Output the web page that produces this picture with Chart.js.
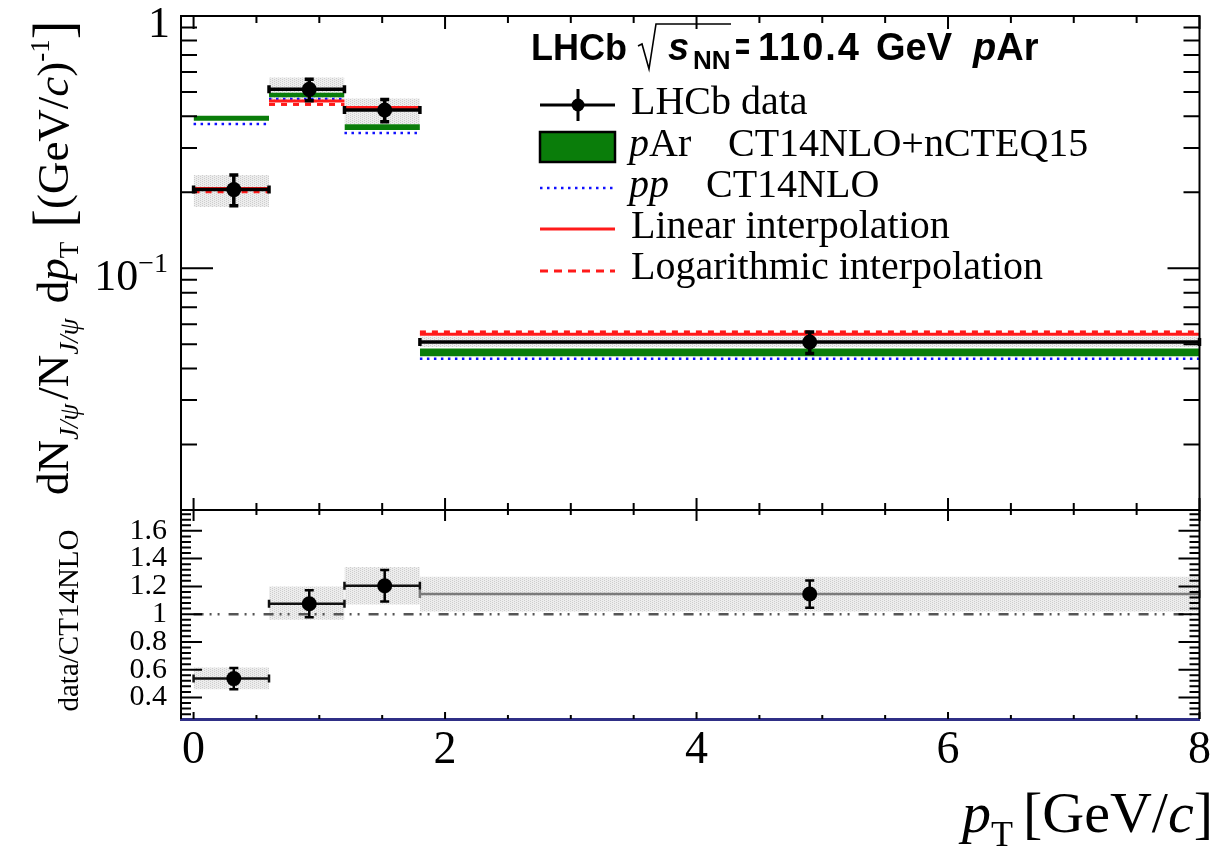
<!DOCTYPE html>
<html>
<head>
<meta charset="utf-8">
<script src="https://cdn.jsdelivr.net/npm/chart.js@4.4.1/dist/chart.umd.min.js"></script>
<style>
  html, body { margin: 0; padding: 0; background: #fff; }
  #wrap { width: 1215px; height: 853px; position: relative; }
</style>
</head>
<body>
<div id="wrap"><canvas id="c" width="1215" height="853"></canvas></div>
<script>
// pT bins [GeV/c] and mean pT of each bin
const binEdges = [0, 0.6, 1.2, 1.8, 8];
const meanPt   = [0.32, 0.92, 1.52, 4.9];

// normalised differential yield dN/(N dpT) [(GeV/c)^-1]
const dataVal   = [0.205, 0.512, 0.424, 0.0510];
const dataErrLo = [0.028, 0.051, 0.043, 0.0051];
const dataErrHi = [0.029, 0.049, 0.043, 0.0049];
const systLo    = [0.175, 0.464, 0.373, 0.0487];
const systHi    = [0.234, 0.571, 0.471, 0.0536];

// predictions
const pArLo     = [0.384, 0.476, 0.353, 0.0448];
const pArHi     = [0.402, 0.496, 0.372, 0.0480];
const ppVal     = [0.373, 0.469, 0.344, 0.0438];
const linInterp = [0.207, 0.460, 0.434, 0.0547];
const logInterp = [0.201, 0.446, 0.430, 0.0559];

// data / CT14NLO
const ratioVal    = [0.536, 1.075, 1.205, 1.145];
const ratioErr    = [0.076, 0.097, 0.113, 0.098];
const ratioSystLo = [0.460, 0.960, 1.070, 1.020];
const ratioSystHi = [0.615, 1.200, 1.340, 1.270];
const ratioRef    = 1;

// axis ticks
const xTicks     = [0, 2, 4, 6, 8];
const ratioTicks = [0.4, 0.6, 0.8, 1, 1.2, 1.4, 1.6];

const SERIF = "'Liberation Serif', 'Times New Roman', serif";
const SANS  = "'Liberation Sans', Arial, sans-serif";

// light grey dotted texture for the systematic boxes
function makeTexture() {
  const c = document.createElement('canvas');
  c.width = 4; c.height = 4;
  const g = c.getContext('2d');
  g.fillStyle = '#ededed'; g.fillRect(0, 0, 4, 4);
  g.fillStyle = '#cdcdcd';
  g.fillRect(0, 0, 1, 1); g.fillRect(0, 2, 1, 1); g.fillRect(2, 1, 1, 1); g.fillRect(2, 3, 1, 1);
  return g.createPattern(c, 'repeat');
}
const grey = makeTexture();

const datasets = [];
const seg = (x0, x1, y) => [{ x: x0, y: y }, { x: x1, y: y }];
const plain = { pointRadius: 0, pointHoverRadius: 0, tension: 0 };

function addBand(lo, hi, axis, fillColor, order) {
  for (let i = 0; i < lo.length; i++) {
    const a = binEdges[i], b = binEdges[i + 1];
    datasets.push({ ...plain, data: seg(a, b, lo[i]), yAxisID: axis, borderWidth: 0, borderColor: 'rgba(0,0,0,0)', fill: false, order });
    datasets.push({ ...plain, data: seg(a, b, hi[i]), yAxisID: axis, borderWidth: 0, borderColor: 'rgba(0,0,0,0)', fill: '-1', backgroundColor: fillColor, order });
  }
}
function addLevels(vals, axis, color, width, dash, order) {
  for (let i = 0; i < vals.length; i++) {
    datasets.push({ ...plain, data: seg(binEdges[i], binEdges[i + 1], vals[i]), yAxisID: axis,
      borderColor: color, borderWidth: width, borderDash: dash, fill: false, order });
  }
}
function addPoints(vals, errLo, errHi, axis, lw, lineColors) {
  for (let i = 0; i < vals.length; i++) {
    // horizontal bin-width bar with end caps
    datasets.push({ data: seg(binEdges[i], binEdges[i + 1], vals[i]), yAxisID: axis,
      borderColor: lineColors[i], borderWidth: lw, pointStyle: 'line', pointRotation: 90,
      pointRadius: 4, pointBorderWidth: lw, pointBorderColor: lineColors[i], fill: false, order: 1, clip: 8 });
    // vertical statistical error bar with caps
    datasets.push({ data: [{ x: meanPt[i], y: vals[i] - errLo[i] }, { x: meanPt[i], y: vals[i] + errHi[i] }],
      yAxisID: axis, borderColor: '#000', borderWidth: lw, pointStyle: 'line', pointRotation: 0,
      pointRadius: 4.5, pointBorderWidth: lw, pointBorderColor: '#000', fill: false, order: 1, clip: 8 });
  }
  datasets.push({ data: vals.map((v, i) => ({ x: meanPt[i], y: v })), yAxisID: axis, showLine: false,
    pointStyle: 'circle', pointRadius: 7.5, pointBackgroundColor: '#000', pointBorderColor: '#000',
    pointBorderWidth: 0, order: 0, clip: 10 });
}

// upper panel
addBand(systLo, systHi, 'y', grey, 6);
addBand(pArLo, pArHi, 'y', '#0a7d0a', 5);
addLevels(ppVal, 'y', '#1010ff', 2.5, [2.5, 4.5], 4);
addLevels(linInterp, 'y', '#ff1a1a', 3, [], 3);
addLevels(logInterp, 'y', '#ff1a1a', 3, [6, 6], 2);
addPoints(dataVal, dataErrLo, dataErrHi, 'y', 3.5, ['#000', '#000', '#000', '#000']);

// ratio panel
addBand(ratioSystLo, ratioSystHi, 'yRatio', grey, 6);
datasets.push({ ...plain, data: seg(binEdges[0], binEdges[binEdges.length - 1], ratioRef), yAxisID: 'yRatio',
  borderColor: '#555', borderWidth: 2.5, borderDash: [10, 6, 2, 6, 2, 9], fill: false, order: 4 });
addPoints(ratioVal, ratioErr, ratioErr, 'yRatio', 2.5, ['#111', '#111', '#111', '#7a7a7a']);

// draws run-by-run rich text (sub/superscripts, italics) along the current baseline
function drawRuns(ctx, runs, x, y, align) {
  let total = 0;
  runs.forEach(r => { ctx.font = r.font; r.w = ctx.measureText(r.t).width + (r.gap || 0); total += r.w; });
  let cx = align === 'right' ? x - total : align === 'center' ? x - total / 2 : x;
  ctx.textAlign = 'left';
  ctx.textBaseline = 'alphabetic';
  runs.forEach(r => { ctx.font = r.font; ctx.fillText(r.t, cx, y + (r.dy || 0)); cx += r.w; });
  return total;
}

const framePlugin = {
  id: 'frame',
  afterDraw(chart) {
    const ctx = chart.ctx;
    const xs = chart.scales.x, ys = chart.scales.y, rs = chart.scales.yRatio;
    const L = xs.left, R = xs.right;
    ctx.save();
    ctx.strokeStyle = '#000';
    ctx.fillStyle = '#000';
    ctx.lineWidth = 2;
    ctx.lineCap = 'butt';

    // panel frames
    ctx.strokeRect(L, ys.top, R - L, ys.bottom - ys.top);
    ctx.beginPath();
    ctx.moveTo(L, rs.top); ctx.lineTo(L, rs.bottom);
    ctx.moveTo(R, rs.top); ctx.lineTo(R, rs.bottom);
    ctx.stroke();

    ctx.beginPath();
    // x ticks on both panels
    for (let v = 0; v <= 8.001; v += 0.5) {
      const px = xs.getPixelForValue(v);
      const major = Math.abs(v % 2) < 1e-6;
      ctx.moveTo(px, ys.top); ctx.lineTo(px, ys.top + (major ? 13 : 7));
      ctx.moveTo(px, ys.bottom); ctx.lineTo(px, ys.bottom - (major ? 12 : 7));
      ctx.moveTo(px, rs.top); ctx.lineTo(px, rs.top + (major ? 11 : 5));
      ctx.moveTo(px, rs.bottom); ctx.lineTo(px, rs.bottom - (major ? 7 : 4));
    }
    // log ticks, upper panel
    for (let d = -2; d <= 0; d++) {
      for (let m = 1; m <= 9; m++) {
        const v = m * Math.pow(10, d);
        if (v < ys.min * 0.999 || v > ys.max * 1.001) continue;
        const py = ys.getPixelForValue(v);
        const len = m === 1 ? 32 : 16;
        ctx.moveTo(L, py); ctx.lineTo(L + len, py);
        ctx.moveTo(R, py); ctx.lineTo(R - len, py);
      }
    }
    // linear ticks, ratio panel
    for (let k = 0; k <= 60; k++) {
      const v = 0.24 + k * 0.04;
      if (v < rs.min || v > rs.max) continue;
      const py = rs.getPixelForValue(v);
      const major = Math.abs((v / 0.2) - Math.round(v / 0.2)) < 1e-6;
      const len = major ? 21 : 10;
      ctx.moveTo(L, py); ctx.lineTo(L + len, py);
      ctx.moveTo(R, py); ctx.lineTo(R - len, py);
    }
    ctx.stroke();

    // log axis labels
    drawRuns(ctx, [{ t: '1', font: '44px ' + SERIF }], 170, ys.getPixelForValue(1) + 21, 'right');
    const p01 = ys.getPixelForValue(0.1);
    drawRuns(ctx, [{ t: '10', font: '44px ' + SERIF }, { t: '\u22121', font: '28px ' + SERIF, dy: -18 }], 168, p01 + 22, 'right');

    // y title, upper panel
    ctx.save();
    ctx.translate(68, 495);
    ctx.rotate(-Math.PI / 2);
    const big = '45px ' + SERIF, sub = 'italic 27px ' + SERIF, subN = '27px ' + SERIF;
    drawRuns(ctx, [
      { t: 'dN', font: big },
      { t: 'J/\u03C8', font: sub, dy: 10, gap: 4 },
      { t: '/N', font: big },
      { t: 'J/\u03C8', font: sub, dy: 10, gap: 4 },
      { t: ' d', font: big },
      { t: 'p', font: 'italic 45px ' + SERIF },
      { t: 'T', font: subN, dy: 10, gap: 14 },
      { t: '[', font: '56px ' + SERIF, dy: 4 },
      { t: '(GeV/', font: big },
      { t: 'c', font: 'italic 45px ' + SERIF },
      { t: ')', font: big },
      { t: '-1', font: '27px ' + SERIF, dy: -19 },
      { t: ']', font: '56px ' + SERIF, dy: 4 }
    ], 0, 0, 'left');
    ctx.restore();

    // y title, ratio panel
    ctx.save();
    ctx.translate(78, (rs.top + rs.bottom) / 2 + 6);
    ctx.rotate(-Math.PI / 2);
    drawRuns(ctx, [{ t: 'data/CT14NLO', font: '29px ' + SERIF }], 0, 0, 'center');
    ctx.restore();

    // x title
    drawRuns(ctx, [
      { t: 'p', font: 'italic 58px ' + SERIF },
      { t: 'T', font: '36px ' + SERIF, dy: 14, gap: 10 },
      { t: '[GeV/', font: '58px ' + SERIF },
      { t: 'c', font: 'italic 58px ' + SERIF },
      { t: ']', font: '58px ' + SERIF }
    ], 1213, 832, 'right');

    // header
    const hb = 'bold 38px ' + SANS;
    drawRuns(ctx, [{ t: 'LHCb', font: 'bold 36px ' + SANS }], 531, 60, 'left');
    ctx.lineWidth = 1.6;
    ctx.beginPath();
    ctx.moveTo(638, 46); ctx.lineTo(642, 44); ctx.lineTo(649, 69); ctx.lineTo(656, 24); ctx.lineTo(731, 24);
    ctx.stroke();
    drawRuns(ctx, [{ t: 's', font: 'italic bold 38px ' + SANS }], 668, 60, 'left');
    drawRuns(ctx, [{ t: 'NN', font: 'bold 26px ' + SANS }], 693, 69, 'left');
    ctx.save();
    ctx.font = hb;
    ctx.textBaseline = 'alphabetic';
    ctx.fillText('=', 735, 60, 15);
    ctx.letterSpacing = '2px';
    ctx.fillText('110.4', 758, 60);
    ctx.restore();
    drawRuns(ctx, [{ t: 'GeV', font: hb }], 876, 60, 'left');
    drawRuns(ctx, [{ t: 'p', font: 'italic bold 38px ' + SANS }, { t: 'Ar', font: hb }], 973, 60, 'left');

    // legend
    const lf = '40px ' + SERIF, lfi = 'italic 40px ' + SERIF;
    const sx0 = 540, sx1 = 615;
    // LHCb data
    ctx.lineWidth = 3;
    ctx.beginPath();
    ctx.moveTo(sx0, 105); ctx.lineTo(sx1, 105);
    ctx.moveTo(578, 89); ctx.lineTo(578, 121);
    ctx.stroke();
    ctx.beginPath(); ctx.arc(578, 105, 6.5, 0, Math.PI * 2); ctx.fill();
    drawRuns(ctx, [{ t: 'LHCb data', font: lf }], 631, 114, 'left');
    // pAr band
    ctx.fillStyle = '#0a7d0a';
    ctx.fillRect(sx0, 132, sx1 - sx0, 30);
    ctx.lineWidth = 2.5; ctx.strokeStyle = '#000';
    ctx.strokeRect(sx0, 132, sx1 - sx0, 30);
    ctx.fillStyle = '#000';
    drawRuns(ctx, [{ t: 'p', font: lfi }, { t: 'Ar', font: lf }], 629, 156, 'left');
    drawRuns(ctx, [{ t: 'CT14NLO+nCTEQ15', font: lf }], 728, 156, 'left');
    // pp, linear and logarithmic lines
    ctx.save();
    ctx.strokeStyle = '#1010ff'; ctx.lineWidth = 2.5; ctx.setLineDash([2.5, 4.5]);
    ctx.beginPath(); ctx.moveTo(sx0, 188); ctx.lineTo(sx1, 188); ctx.stroke();
    ctx.strokeStyle = '#ff1a1a'; ctx.lineWidth = 3; ctx.setLineDash([]);
    ctx.beginPath(); ctx.moveTo(sx0, 229); ctx.lineTo(sx1, 229); ctx.stroke();
    ctx.setLineDash([8, 6]);
    ctx.beginPath(); ctx.moveTo(sx0, 271); ctx.lineTo(sx1, 271); ctx.stroke();
    ctx.restore();
    drawRuns(ctx, [{ t: 'pp', font: lfi }], 629, 197, 'left');
    drawRuns(ctx, [{ t: 'CT14NLO', font: lf }], 706, 197, 'left');
    drawRuns(ctx, [{ t: 'Linear interpolation', font: lf }], 631, 238, 'left');
    drawRuns(ctx, [{ t: 'Logarithmic interpolation', font: lf }], 631, 279, 'left');

    ctx.restore();
  }
};

// stacked axes share the left column; drop the half-label padding Chart.js reserves
const fitLeft = s => { s.width = 181; s.paddingTop = 0; s.paddingBottom = 0; };

new Chart(document.getElementById('c'), {
  type: 'line',
  data: { datasets },
  options: {
    responsive: false,
    animation: false,
    devicePixelRatio: 1,
    layout: { padding: { left: 0, right: 13, top: 16, bottom: 0 } },
    plugins: { legend: { display: false }, tooltip: { enabled: false } },
    elements: { line: { tension: 0 } },
    scales: {
      x: {
        type: 'linear', min: -0.1, max: 8,
        afterBuildTicks: s => { s.ticks = xTicks.map(v => ({ value: v })); },
        afterFit: s => { s.height = 134; },
        grid: { display: false, drawTicks: false },
        border: { display: true, color: '#2f2f86', width: 3 },
        ticks: { font: { family: SERIF, size: 46 }, color: '#000', padding: 4, maxRotation: 0, autoSkip: false }
      },
      yRatio: {
        type: 'linear', min: 0.245, max: 1.75,
        position: 'left', stack: 'panels', stackWeight: 209,
        afterBuildTicks: s => { s.ticks = ratioTicks.map(v => ({ value: v })); },
        afterFit: fitLeft,
        grid: { display: false, drawTicks: false },
        border: { display: false },
        ticks: { font: { family: SERIF, size: 30 }, color: '#000', padding: 14, autoSkip: false,
                 callback: v => String(Math.round(v * 10) / 10) }
      },
      y: {
        type: 'logarithmic', min: 0.011, max: 1.0,
        position: 'left', stack: 'panels', stackWeight: 494,
        afterFit: fitLeft,
        grid: { display: false, drawTicks: false },
        border: { display: false },
        ticks: { display: false }
      }
    }
  },
  plugins: [framePlugin]
});
</script>
</body>
</html>
